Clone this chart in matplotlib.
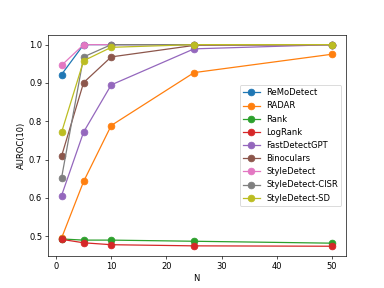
import numpy as np
import matplotlib
matplotlib.use('Agg')
import matplotlib.pyplot as plt

N = [1, 5, 10, 25, 50]

remodetect = [0.922, 1.0, 1.0, 1.0, 1.0]
radar = [0.495, 0.643, 0.789, 0.927, 0.975]
rank = [0.493, 0.490, 0.490, 0.487, 0.482]
logrank = [0.492, 0.483, 0.478, 0.475, 0.474]
fastdetectgpt = [0.606, 0.772, 0.895, 0.989, 1.0]
binoculars = [0.709, 0.901, 0.968, 0.998, 1.0]
styledetect = [0.946, 1.0, 1.0, 1.0, 1.0]
styledetect_cisr = [0.652, 0.968, 1.0, 1.0, 1.0]
styledetect_sd = [0.771, 0.958, 0.993, 1.0, 1.0]

series = [
    ('ReMoDetect', remodetect),
    ('RADAR', radar),
    ('Rank', rank),
    ('LogRank', logrank),
    ('FastDetectGPT', fastdetectgpt),
    ('Binoculars', binoculars),
    ('StyleDetect', styledetect),
    ('StyleDetect-CISR', styledetect_cisr),
    ('StyleDetect-SD', styledetect_sd),
]

fig, ax = plt.subplots(figsize=(6.4, 4.8), dpi=60)
for name, vals in series:
    ax.plot(N, vals, marker='o', markersize=8, linewidth=1.5, label=name)

ax.set_xlabel('N')
ax.set_ylabel('AUROC(10)')
ax.legend(loc='center right')
fig.savefig('out.png', dpi=60)
